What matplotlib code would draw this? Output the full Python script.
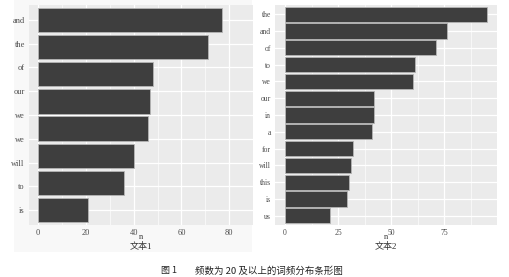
import numpy as np
import matplotlib
matplotlib.use("Agg")
import matplotlib.pyplot as plt
from matplotlib.patches import Rectangle

# Word frequencies, text 1 (top to bottom)
words1 = ["and", "the", "of", "our", "we", "will", "to", "is"]
counts1 = [77, 71, 48, 47, 46, 40, 36, 21]
labels1 = ["and", "the", "of", "our", "we", "we", "will", "to", "is"]
ticks1 = [0, 20, 40, 60, 80]

# Word frequencies, text 2 (top to bottom)
words2 = ["the", "and", "of", "to", "we", "our", "in", "a", "for", "will",
          "this", "is", "us"]
counts2 = [95, 76, 71, 61, 60, 42, 42, 41, 32, 31, 30, 29, 21]
ticks2 = [0, 25, 50, 75]

panel_titles = ["文本1", "文本2"]
caption_num = "图 1"
caption_text = "频数为 20 及以上的词频分布条形图"

serif = ["Liberation Serif", "Noto Sans CJK SC"]
cjk = ["Noto Sans CJK SC", "DejaVu Sans"]

fig = plt.figure(figsize=(5.09, 2.77), dpi=100)
fig.patch.set_facecolor("white")

W, H = 509, 277

# faint backdrop behind the left plot
fig.patches.append(Rectangle((14 / W, 1 - 252 / H), (252 - 14) / W, 252 / H,
                             transform=fig.transFigure, facecolor="#f8f8f8",
                             edgecolor="none", zorder=-5))


def panel(rect, words, counts, ticks, labels, title, label_size):
    x0, y0, x1, y1 = rect
    ax = fig.add_axes([x0 / W, 1 - y1 / H, (x1 - x0) / W, (y1 - y0) / H])
    ax.set_facecolor("#EBEBEB")
    n = len(words)
    pos = np.arange(n)
    ax.barh(pos, counts, height=0.9, color="#3e3e3e", edgecolor="#b5b5b5",
            linewidth=0.6, zorder=3)
    vmax = max(counts)
    ax.set_xlim(-0.05 * vmax, 1.05 * vmax)
    ax.set_ylim(n - 0.45, -0.55)
    ax.set_xticks(ticks)
    ax.set_xticks([t + (ticks[1] - ticks[0]) / 2 for t in ticks], minor=True)
    ax.set_yticks(np.linspace(0, n - 1, len(labels)))
    ax.set_yticklabels(labels)
    ax.set_xticklabels([str(t) for t in ticks])
    ax.grid(True, which="major", color="white", linewidth=0.9, zorder=1)
    ax.grid(True, which="minor", axis="x", color="white", linewidth=0.45, zorder=1)
    ax.tick_params(which="both", length=0, pad=3, labelsize=label_size,
                   labelcolor="#4d4d4d")
    for t in ax.get_xticklabels() + ax.get_yticklabels():
        t.set_family(serif)
    for s in ax.spines.values():
        s.set_visible(False)
    # axis title "n" and the panel name underneath it
    ax.text(0.5, -0.055, "n", transform=ax.transAxes, ha="center", va="center",
            family=serif, fontsize=6, color="#333333")
    ax.text(0.5, -0.1, title, transform=ax.transAxes, ha="center", va="center",
            family=serif, fontsize=6.5, color="#333333")
    ax.set_axisbelow(True)
    return ax


panel((29, 5, 253, 225), words1, counts1, ticks1, labels1, panel_titles[0], 6)
panel((275, 5, 497, 225), words2, counts2, ticks2, words2, panel_titles[1], 5.5)

fig.text(161 / W, 1 - 271 / H, caption_num, family=cjk, fontsize=6.5,
         ha="left", va="center", color="#222222")
fig.text(195 / W, 1 - 271 / H, caption_text, family=cjk, fontsize=6.8,
         ha="left", va="center", color="#222222")

fig.savefig("out.png", dpi=100)
